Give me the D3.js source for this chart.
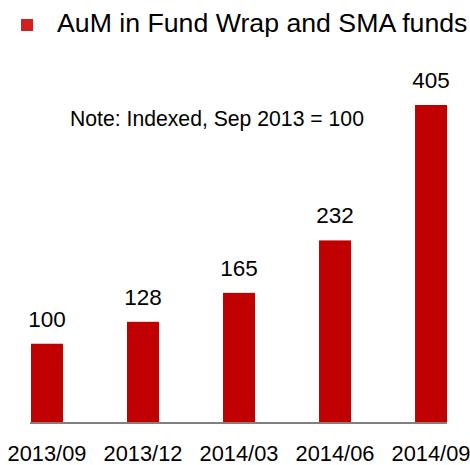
<!DOCTYPE html>
<html>
<head>
<meta charset="utf-8">
<script src="https://cdn.jsdelivr.net/npm/d3@7"></script>
<style>
  body { margin: 0; background: #fff; }
  text { font-family: "Liberation Sans", Arial, sans-serif; fill: #000; }
</style>
</head>
<body>
<div class="chart"></div>
<script>
const periods = ["2013/09", "2013/12", "2014/03", "2014/06", "2014/09"];
const aumIndex = [100, 128, 165, 232, 405];
const legendLabel = "AuM in Fund Wrap and SMA funds";
const noteLabel = "Note: Indexed, Sep 2013 = 100";

const width = 470;
const height = 465;
const baseY = 422;
const barColor = "#c00000";

const data = periods.map((p, i) => ({ period: p, value: aumIndex[i] }));

const svg = d3
  .select(".chart")
  .append("svg")
  .attr("width", width)
  .attr("height", height);

const xScale = d3
  .scaleBand()
  .domain(periods)
  .range([31, 447])
  .paddingInner(0.667)
  .paddingOuter(0);

const yScale = d3.scaleLinear().domain([0, 405]).range([baseY, 105]);

// legend
svg.append("rect")
  .attr("x", 21).attr("y", 19)
  .attr("width", 12).attr("height", 12)
  .style("fill", "#d0201f");
svg.append("text")
  .attr("x", 57).attr("y", 32)
  .style("font-size", "26.7px")
  .text(legendLabel);

// note
svg.append("text")
  .attr("x", 70).attr("y", 126)
  .style("font-size", "21.2px")
  .text(noteLabel);

// bars
svg.selectAll("rect.bar")
  .data(data)
  .enter()
  .append("rect")
  .attr("class", "bar")
  .attr("x", d => xScale(d.period))
  .attr("y", d => yScale(d.value))
  .attr("width", xScale.bandwidth())
  .attr("height", d => baseY - yScale(d.value))
  .style("fill", barColor);

// value labels
svg.selectAll("text.val")
  .data(data)
  .enter()
  .append("text")
  .attr("class", "val")
  .attr("x", d => xScale(d.period) + xScale.bandwidth() / 2)
  .attr("y", d => yScale(d.value) - 17)
  .attr("text-anchor", "middle")
  .style("font-size", "22.5px")
  .text(d => d.value);

// x axis
const xAxis = svg.append("g")
  .attr("transform", `translate(0, ${baseY + 1})`)
  .call(d3.axisBottom(xScale).tickSize(0).tickPadding(0).tickSizeOuter(0));
xAxis.select(".domain")
  .attr("d", "M30,0H447")
  .style("stroke", "#808080")
  .style("stroke-width", 2);
xAxis.selectAll(".tick text")
  .attr("dy", null)
  .attr("y", 38)
  .style("font-family", "Liberation Sans, Arial, sans-serif")
  .style("font-size", "21.8px")
  .style("fill", "#000");
</script>
</body>
</html>
